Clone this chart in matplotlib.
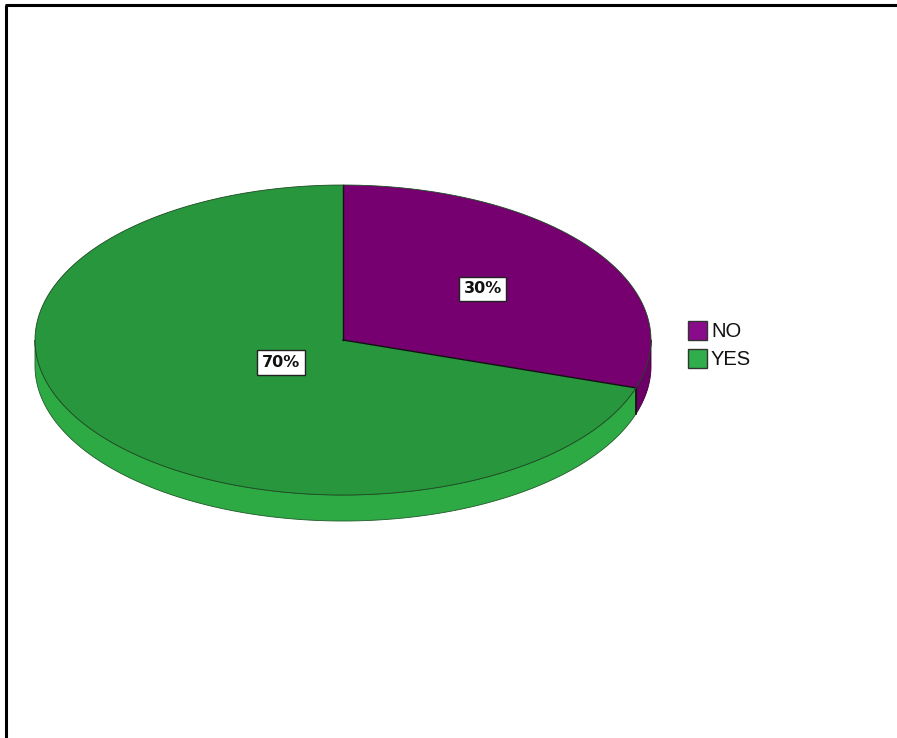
import numpy as np
import matplotlib
matplotlib.use("Agg")
import matplotlib.pyplot as plt
from matplotlib.patches import Polygon, Rectangle

categories = ["NO", "YES"]
values = [30, 70]
labels = ["30%", "70%"]
top_colors = ["#76006f", "#28963c"]
side_colors = ["#6c0066", "#2eaa45"]
legend_colors = ["#8a0a8c", "#2fae4b"]

W, H = 897, 738
fig = plt.figure(figsize=(W / 100, H / 100), dpi=100)
ax = fig.add_axes([0, 0, 1, 1])
ax.set_xlim(0, W)
ax.set_ylim(H, 0)
ax.axis("off")

cx, cy, rx, ry, depth = 343, 340, 308, 155, 26

def pt(theta_deg, dy=0):
    t = np.radians(theta_deg)
    return cx + rx * np.cos(t), cy - ry * np.sin(t) + dy

total = sum(values)
start = 90.0
slices = []
for v in values:
    sweep = 360.0 * v / total
    slices.append((start - sweep, start))
    start -= sweep

# sides (visible lower half: math angles 180..360)
for (a1, a2), sc in zip(slices, side_colors):
    for shift in (-360, 0, 360):
        lo, hi = max(a1 + shift, -180), min(a2 + shift, 0)
        if hi > lo:
            ts = np.linspace(lo, hi, 200)
            topx, topy = pt(ts)
            botx, boty = pt(ts[::-1], depth)
            poly = np.column_stack([np.concatenate([topx, botx]),
                                    np.concatenate([topy, boty])])
            ax.add_patch(Polygon(poly, closed=True, facecolor=sc,
                                 edgecolor="#1f5a28" if sc == side_colors[1] else "#3a0038",
                                 linewidth=0.6, zorder=1))

# cut edge of purple at the slice boundary
ex, ey = pt(slices[0][0])
ax.plot([ex, ex], [ey, ey + depth], color="#111111", lw=1.2, zorder=2)

# tops
for (a1, a2), tc in zip(slices, top_colors):
    ts = np.linspace(a1, a2, 300)
    xs, ys = pt(ts)
    poly = np.column_stack([np.concatenate([[cx], xs]), np.concatenate([[cy], ys])])
    ax.add_patch(Polygon(poly, closed=True, facecolor=tc, edgecolor="none", zorder=3))
for a in (slices[0][0], slices[0][1]):
    x, y = pt(a)
    ax.plot([cx, x], [cy, y], color="#111111", lw=1.0, zorder=4)
ts = np.linspace(0, 360, 600)
xs, ys = pt(ts)
ax.plot(xs, ys, color="#1d4a22", lw=0.6, zorder=4)

# labels
fracs = [0.56, 0.25]
for (a1, a2), lab, f in zip(slices, labels, fracs):
    m = np.radians((a1 + a2) / 2)
    x = cx + f * rx * np.cos(m)
    y = cy - f * ry * np.sin(m)
    ax.text(x, y, lab, ha="center", va="center", fontsize=11.5, fontweight="bold",
            family="Liberation Sans Narrow", color="#111111", zorder=6,
            bbox=dict(boxstyle="square,pad=0.3", facecolor="white",
                      edgecolor="#222222", linewidth=1.0))

# legend
lx, ly0, sz, gap = 688, 321, 19, 28
for i, (cat, lc) in enumerate(zip(categories, legend_colors)):
    y = ly0 + i * gap
    ax.add_patch(Rectangle((lx, y), sz, sz, facecolor=lc, edgecolor="#333333",
                           linewidth=1.0, zorder=5))
    ax.text(lx + sz + 4, y + sz / 2 + 1, cat, ha="left", va="center", fontsize=14.5,
            family="Liberation Sans", color="#111111", zorder=5)

# frame lines
ax.plot([6, 6], [5, H], color="black", lw=2.2, solid_capstyle="butt", zorder=7)
ax.plot([5, W], [5, 5], color="black", lw=2.2, solid_capstyle="butt", zorder=7)

fig.savefig("out.png", dpi=100, facecolor="white")
